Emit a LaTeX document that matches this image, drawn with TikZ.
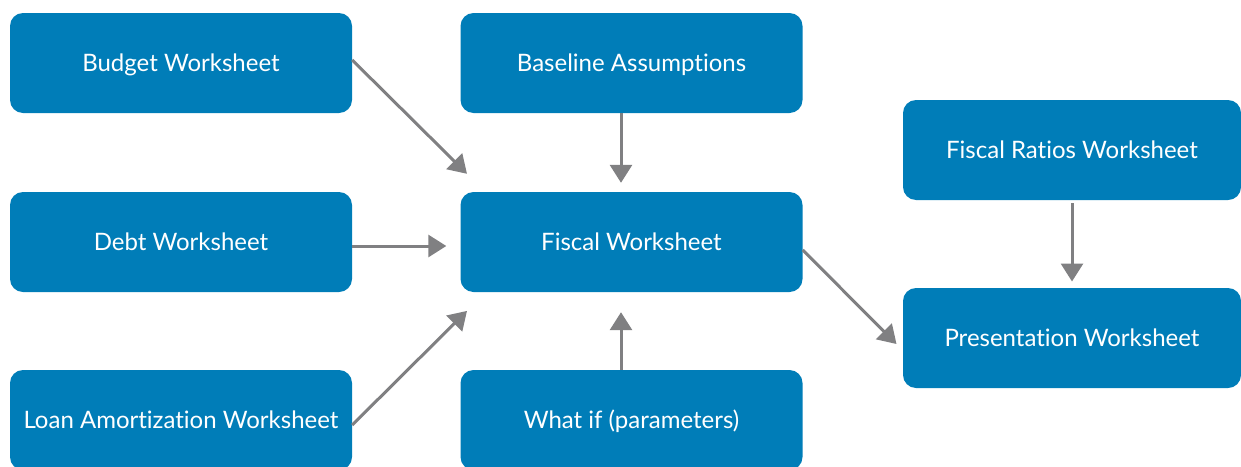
\documentclass[tikz,border=0pt]{standalone}
\usepackage{fontspec}
\setmainfont{Lato}[Ligatures=NoCommon]
\usetikzlibrary{arrows.meta}
\definecolor{boxblue}{RGB}{0,125,184}
\definecolor{arrgray}{RGB}{128,128,130}
\tikzset{
  box/.style={draw=none, fill=boxblue, rounded corners=13pt, minimum width=342pt, minimum height=100pt,
    text=white, font=\fontsize{24}{28}\selectfont, inner sep=0pt, text height=17pt, text depth=1pt},
  rbox/.style={box, minimum width=338pt},
  arr/.style={draw=arrgray, line width=3pt, -{Triangle[length=18pt,width=22pt]}},
}
\begin{document}
\begin{tikzpicture}[x=1pt,y=-1pt]
\useasboundingbox (0,0) rectangle (1241,466);
\node[box] (budget) at (181,63) {Budget Worksheet};
\node[box] (baseline) at (631.5,63) {Baseline Assumptions};
\node[box] (debt) at (181,242) {Debt Worksheet};
\node[box] (fiscal) at (631.5,242) {Fiscal Worksheet};
\node[box] (loan) at (181,420) {Loan Amortization Worksheet};
\node[box] (whatif) at (631.5,420) {What if (parameters)};
\node[rbox] (ratios) at (1072,150) {Fiscal Ratios Worksheet};
\node[rbox] (pres) at (1072,338) {Presentation Worksheet};
\draw[arr] ([yshift=3pt]budget.east) -- ([xshift=6.7pt,yshift=18pt]fiscal.north west);
\draw[arr] ([xshift=-10.5pt]baseline.south) -- ([xshift=-10.5pt,yshift=9pt]fiscal.north);
\draw[arr] ([yshift=-4pt]debt.east) -- ([xshift=-14pt,yshift=-4pt]fiscal.west);
\draw[arr] ([yshift=-5pt]loan.east) -- ([xshift=6.7pt,yshift=-18.7pt]fiscal.south west);
\draw[arr] ([xshift=-10.5pt]whatif.north) -- ([xshift=-10.5pt,yshift=-20pt]fiscal.south);
\draw[arr] ([yshift=-8pt]fiscal.east) -- ([xshift=-6.3pt,yshift=-6pt]pres.west);
\draw[arr] ([yshift=-3pt]ratios.south) -- ([yshift=6.3pt]pres.north);
\end{tikzpicture}
\end{document}
